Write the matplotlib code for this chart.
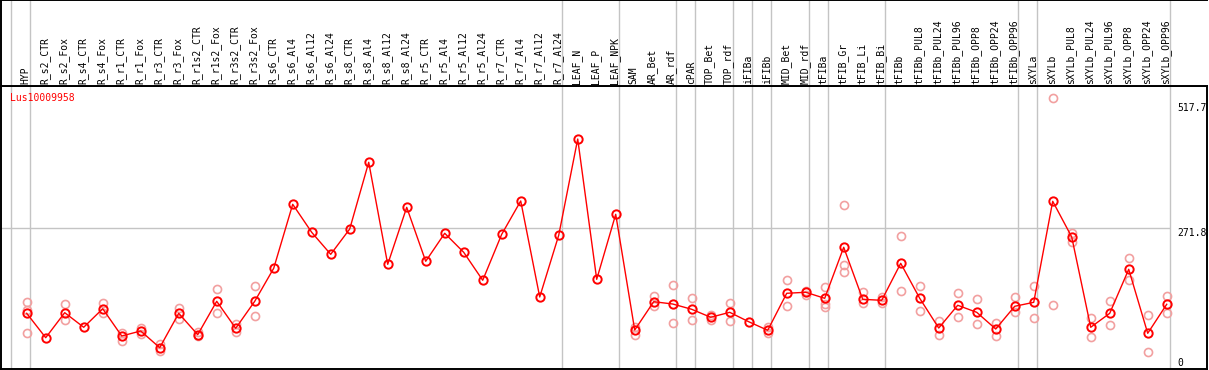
import matplotlib
matplotlib.use("Agg")
import matplotlib.pyplot as plt
from matplotlib.transforms import blended_transform_factory

# ---------------- data ----------------
title = "Lus10009958"

categories = [
    "HYP", "R_s2_CTR", "R_s2_Fox", "R_s4_CTR", "R_s4_Fox", "R_r1_CTR", "R_r1_Fox",
    "R_r3_CTR", "R_r3_Fox", "R_r1s2_CTR", "R_r1s2_Fox", "R_r3s2_CTR", "R_r3s2_Fox",
    "R_s6_CTR", "R_s6_Al4", "R_s6_Al12", "R_s6_Al24", "R_s8_CTR", "R_s8_Al4",
    "R_s8_Al12", "R_s8_Al24", "R_r5_CTR", "R_r5_Al4", "R_r5_Al12", "R_r5_Al24",
    "R_r7_CTR", "R_r7_Al4", "R_r7_Al12", "R_r7_Al24", "LEAF_N", "LEAF_P", "LEAF_NPK",
    "SAM", "AR_Bet", "AR_rdf", "cPAR", "TOP_Bet", "TOP_rdf", "iFIBa", "iFIBb",
    "MID_Bet", "MID_rdf", "tFIBa", "tFIB_Gr", "tFIB_Li", "tFIB_Bi", "tFIBb",
    "tFIBb_PUL8", "tFIBb_PUL24", "tFIBb_PUL96", "tFIBb_OPP8", "tFIBb_OPP24",
    "tFIBb_OPP96", "sXYLa", "sXYLb", "sXYLb_PUL8", "sXYLb_PUL24", "sXYLb_PUL96",
    "sXYLb_OPP8", "sXYLb_OPP24", "sXYLb_OPP96",
]

mean_values = [
    111.0, 64.9, 112.2, 84.6, 119.7, 68.1, 77.6, 46.0, 111.0, 70.6, 133.7, 82.7, 133.7,
    196.2, 317.2, 264.2, 222.6, 270.5, 396.7, 203.7, 311.5, 209.4, 262.4, 226.4, 173.5,
    260.5, 323.5, 141.9, 258.6, 440.7, 175.3, 298.3,
    79.4, 133.0, 128.6, 118.6, 103.5, 112.9, 95.1, 78.9, 148.9, 150.8, 139.4, 235.9,
    137.5, 135.6, 205.6, 139.4, 83.2, 126.2, 112.9, 81.3, 124.3, 131.8, 322.9, 255.4,
    84.6, 111.0, 194.3, 73.2, 128.1,
]

replicates = [
    [133.0, 117.3, 73.2], [], [128.1, 97.8], [], [130.0, 112.2], [74.3, 59.2],
    [82.7, 71.3], [53.0, 40.3], [121.6, 100.3], [75.7, 68.1], [156.4, 111.0],
    [90.8, 75.1], [162.1, 105.4],
    [], [], [], [], [], [], [], [], [], [], [], [], [], [], [], [], [], [], [],
    [84.6, 70.0], [143.8, 124.8], [164.0, 92.1], [139.4, 97.8], [98.0, 108.0],
    [130.0, 95.9], [], [84.6, 74.3], [173.5, 124.3], [153.8, 146.2],
    [160.2, 128.6, 123.5], [315.3, 202.4, 189.7], [150.8, 130.0], [142.4, 130.0],
    [256.7, 152.6], [162.1, 115.5], [96.5, 70.6], [148.9, 103.5], [137.5, 90.2],
    [92.1, 68.7], [141.2, 112.9], [162.1, 101.6], [517.7, 126.2], [263.5, 246.5],
    [101.6, 66.2], [133.7, 88.3], [215.1, 173.5], [107.2, 37.3], [143.8, 111.6],
]

# indices of the last category of each group (separator lines follow them)
group_ends = [-1, 0, 28, 31, 34, 35, 37, 38, 39, 41, 42, 45, 52, 53, 60]

y_ticks = [517.7, 271.8, 0]
grid_value = 271.8

# ---------------- figure ----------------
W, H = 1209, 370
fig = plt.figure(figsize=(W / 100, H / 100), dpi=100)
mono = "DejaVu Sans Mono"

left = 1 / W
width = 1206 / W
main_top_px, main_bot_px = 86, 369
ax = fig.add_axes([left, (H - main_bot_px) / H, width, (main_bot_px - main_top_px) / H])
hdr = fig.add_axes([left, (H - main_top_px) / H, width, main_top_px / H], sharex=ax)

x = list(range(len(categories)))
ax.set_xlim(-1.353, 62.12)
ax.set_ylim(5.67, 541.0)
hdr.set_ylim(0, 1)

grid_c = "#C4C4C4"
for a in (ax, hdr):
    for g in group_ends:
        a.axvline(g + 0.17, color=grid_c, lw=1.0, zorder=0)
    a.set_xticks([])
    a.set_yticks([])
    for s in a.spines.values():
        s.set_color("black")
        s.set_linewidth(1.4)
hdr.spines["right"].set_visible(False)

ax.hlines(grid_value, -1.353, 60.17, color=grid_c, lw=1.0, zorder=0)

# replicates
rx, ry = [], []
for i, reps in enumerate(replicates):
    for r in reps:
        rx.append(i)
        ry.append(r)
ax.plot(rx, ry, linestyle="none", marker="o", ms=5.8, mfc="none",
        mec="#F2A0A0", mew=1.2, zorder=2)

# mean line
ax.plot(x, mean_values, color="#FF0000", lw=1.0, zorder=3,
        marker="o", ms=6.0, mfc="none", mec="#FF0000", mew=1.4)

# category labels
for i, c in enumerate(categories):
    hdr.text(i - 0.05, 0.029, c, rotation=90, ha="center", va="bottom",
             fontsize=7, family=mono, color="black")

# title
ax.text(0.0075, 0.974, title, transform=ax.transAxes, ha="left", va="top",
        fontsize=7, family=mono, color="#FF0000")

# right-hand value labels
xl = 60.57
bt = blended_transform_factory(ax.transData, ax.transAxes)
ax.text(xl, 0.94, f"{y_ticks[0]}", transform=bt, ha="left", va="top",
        fontsize=7, family=mono, color="black")
ax.text(xl, grid_value, f"{y_ticks[1]}", ha="left", va="top", fontsize=7,
        family=mono, color="black")
ax.text(xl, 0.039, f"{y_ticks[2]}", transform=bt, ha="left", va="top",
        fontsize=7, family=mono, color="black")

fig.savefig("out.png", dpi=100)
